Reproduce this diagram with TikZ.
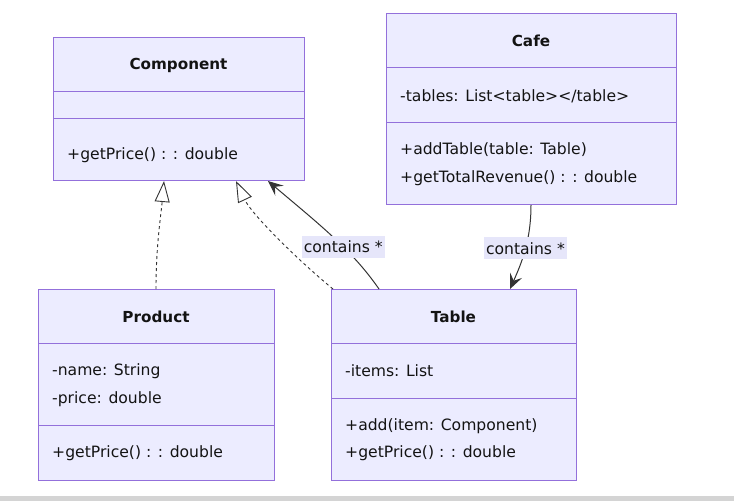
\documentclass[tikz,border=0pt]{standalone}
\usepackage{fontspec}
\setmainfont{DejaVu Sans}
\usetikzlibrary{arrows.meta}
\definecolor{umlfill}{HTML}{ECECFF}
\definecolor{umlborder}{HTML}{9370DB}
\definecolor{edgecol}{HTML}{333333}
\definecolor{labbg}{HTML}{E6E6FA}
\definecolor{txt}{HTML}{131313}
\begin{document}
\begin{tikzpicture}[x=1pt,y=-1pt,
  cls/.style={draw=umlborder, fill=umlfill, line width=1pt, rectangle, inner sep=0pt, anchor=north west},
  divider/.style={draw=umlborder, line width=1pt},
  title/.style={font=\fontsize{15.2}{17}\selectfont\bfseries, text=txt, inner sep=0pt},
  member/.style={font=\fontsize{15.6}{17}\selectfont, text=txt, anchor=west, inner sep=0pt},
  realize/.style={draw=edgecol, dashed, line width=0.9pt, -{Triangle[open, length=21pt, width=15pt, fill=white]}},
  assoc/.style={draw=edgecol, line width=1pt, -{Stealth[length=15pt, width=13pt, inset=6pt]}},
  lab/.style={fill=labbg, text=txt, font=\fontsize{15.6}{17}\selectfont, inner xsep=2pt, inner ysep=5pt}
]
\useasboundingbox (0,0) rectangle (734,501);
\fill[black!17] (0,496) rectangle (734,501);

% Component
\node[cls, minimum width=251pt, minimum height=143pt] (comp) at (53,37) {};
\draw[divider] (53,91) -- (304,91);
\draw[divider] (53,118) -- (304,118);
\node[title] (compT) at (178.5,65) {Component};
\node[member] (compM1) at (67,155) {+getPrice() : : double};

% Cafe
\node[cls, minimum width=290pt, minimum height=191pt] (cafe) at (386,13) {};
\draw[divider] (386,67) -- (676,67);
\draw[divider] (386,122) -- (676,122);
\node[title] (cafeT) at (531,41) {Cafe};
\node[member] (cafeA1) at (400,96) {-tables: List<table></table>};
\node[member] (cafeM1) at (400,150) {+addTable(table: Table)};
\node[member] (cafeM2) at (400,178) {+getTotalRevenue() : : double};

% Product
\node[cls, minimum width=236pt, minimum height=191pt] (prod) at (38,289) {};
\draw[divider] (38,343) -- (274,343);
\draw[divider] (38,425) -- (274,425);
\node[title] (prodT) at (156,317) {Product};
\node[member] (prodA1) at (52,371) {-name: String};
\node[member] (prodA2) at (52,399) {-price: double};
\node[member] (prodM1) at (52,453) {+getPrice() : : double};

% Table
\node[cls, minimum width=245pt, minimum height=191pt] (tab) at (331,289) {};
\draw[divider] (331,343) -- (576,343);
\draw[divider] (331,398) -- (576,398);
\node[title] (tabT) at (453.5,317) {Table};
\node[member] (tabA1) at (345,371) {-items: List};
\node[member] (tabM1) at (345,426) {+add(item: Component)};
\node[member] (tabM2) at (345,453) {+getPrice() : : double};

% connector end points
\coordinate (pTop) at (prod.north -| 156,0);
\coordinate (cIn1) at (comp.south -| 164,0);
\coordinate (tTop1) at (tab.north -| 333,0);
\coordinate (cIn2) at (comp.south -| 236,0);
\coordinate (tTop2) at (tab.north -| 379,0);
\coordinate (cIn3) at (comp.south -| 268,0);
\coordinate (cafeOut) at (cafe.south -| 531,0);
\coordinate (tIn) at (tab.north -| 510,0);

% Product realizes Component
\draw[realize] (pTop) .. controls (156,245) and (161,215) .. (cIn1);
% Table realizes Component
\draw[realize] (tTop1) .. controls (300,262) and (252,215) .. (cIn2);
% Table contains Component
\draw[assoc] (tTop2) .. controls (352,250) and (320,225) .. (cIn3)
  node[lab, pos=0.4] (lab1) {contains *};
% Cafe contains Table
\draw[assoc] (cafeOut) .. controls (531,240) and (522,262) .. (tIn)
  node[lab, pos=0.48] (lab2) {contains *};
\end{tikzpicture}
\end{document}
